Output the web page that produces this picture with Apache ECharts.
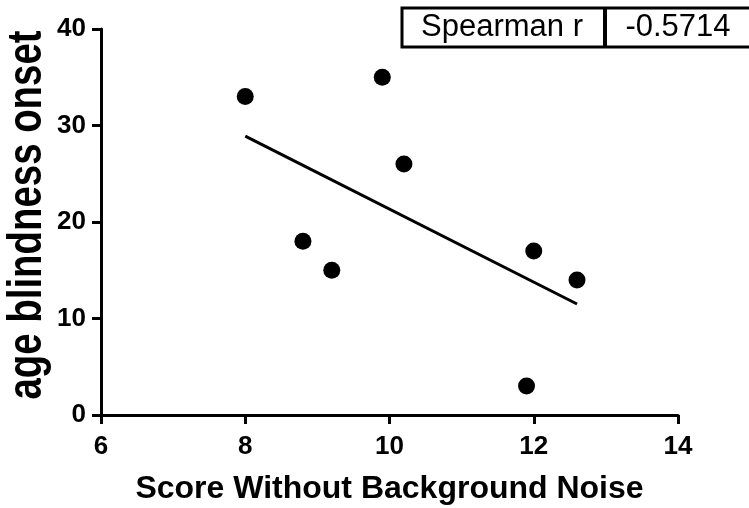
<!DOCTYPE html>
<html>
<head>
<meta charset="utf-8">
<script src="https://cdn.jsdelivr.net/npm/echarts@6/dist/echarts.min.js"></script>
<style>
html, body { margin: 0; padding: 0; background: #fff; }
#chart { width: 749px; height: 508px; }
</style>
</head>
<body>
<div id="chart"></div>
<script>
// data
var scoreX = [8, 8.8, 9.2, 9.9, 10.2, 11.9, 12, 12.6];
var ageY = [33, 18, 15, 35, 26, 3, 17, 14];
// fitted line ends
var fitX = [8, 12.6];
var fitY = [28.9, 11.5];
var xTicks = [6, 8, 10, 12, 14];
var yTicks = [0, 10, 20, 30, 40];
var xTitle = 'Score Without Background Noise';
var yTitle = 'age blindness onset';
var statName = 'Spearman r';
var statValue = '-0.5714';

var myChart = echarts.init(document.getElementById('chart'));
var font = 'Arial, "Liberation Sans", sans-serif';

var points = scoreX.map(function (x, i) { return [x, ageY[i]]; });
var fit = fitX.map(function (x, i) { return [x, fitY[i]]; });

var option = {
    animation: false,
    backgroundColor: '#fff',
    grid: { left: 101, right: 71, top: 29, bottom: 93, containLabel: false, outerBoundsMode: 'none' },
    xAxis: {
        type: 'value',
        min: xTicks[0],
        max: xTicks[xTicks.length - 1],
        interval: 2,
        name: xTitle,
        nameLocation: 'middle',
        nameGap: 58,
        nameTextStyle: { color: '#000', fontFamily: font, fontWeight: 'bold', fontSize: 32 },
        axisLine: { show: true, onZero: false, lineStyle: { color: '#000', width: 3 } },
        axisTick: { show: true, length: 9, lineStyle: { color: '#000', width: 3 } },
        splitLine: { show: false },
        axisLabel: { color: '#000', fontFamily: font, fontWeight: 'bold', fontSize: 26, margin: 19 }
    },
    yAxis: {
        type: 'value',
        min: yTicks[0],
        max: yTicks[yTicks.length - 1],
        interval: 10,
        axisLine: { show: true, onZero: false, lineStyle: { color: '#000', width: 3 } },
        axisTick: { show: true, length: 9, lineStyle: { color: '#000', width: 3 } },
        splitLine: { show: false },
        axisLabel: { color: '#000', fontFamily: font, fontWeight: 'bold', fontSize: 26, margin: 15 }
    },
    series: [
        {
            type: 'scatter',
            data: points,
            symbol: 'circle',
            symbolSize: 17,
            itemStyle: { color: '#000', opacity: 1 }
        },
        {
            type: 'line',
            data: fit,
            symbol: 'none',
            lineStyle: { color: '#000', width: 3 }
        }
    ],
    graphic: [
        {
            // y title: tall, condensed bold lettering
            type: 'text',
            x: 28, y: 215,
            rotation: Math.PI / 2,
            scaleX: 0.8,
            style: { text: yTitle, fill: '#000', font: 'bold 48px ' + font, align: 'center', verticalAlign: 'middle' }
        },
        {
            type: 'rect',
            shape: { x: 402, y: 8, width: 360, height: 39 },
            style: { fill: '#fff', stroke: '#000', lineWidth: 3 }
        },
        {
            type: 'line',
            shape: { x1: 605, y1: 8, x2: 605, y2: 47 },
            style: { stroke: '#000', lineWidth: 4 }
        },
        {
            type: 'text',
            x: 502, y: 27,
            style: { text: statName, fill: '#000', font: '31px ' + font, align: 'center', verticalAlign: 'middle' }
        },
        {
            type: 'text',
            x: 678, y: 27,
            style: { text: statValue, fill: '#000', font: '31px ' + font, align: 'center', verticalAlign: 'middle' }
        }
    ]
};

if (option && typeof option === 'object') {
    myChart.setOption(option, true);
}
</script>
</body>
</html>
